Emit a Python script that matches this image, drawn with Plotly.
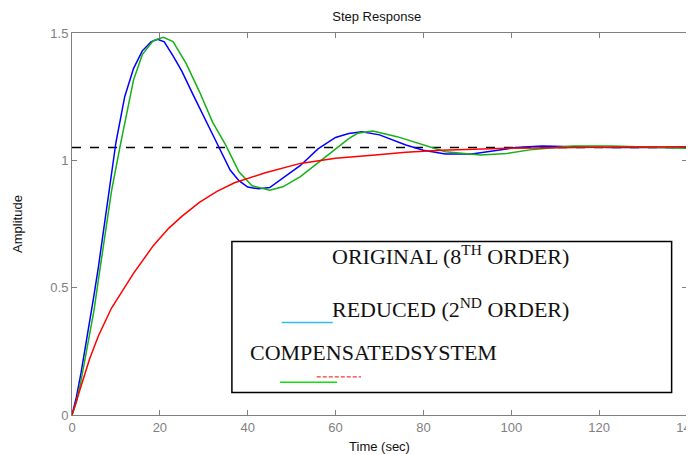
import plotly.graph_objects as go

# ---- data ----
t_orig = [0, 1, 2, 3, 4, 5, 6, 7, 8, 9, 10, 12, 14, 16, 18, 19.5, 21, 23, 25, 27.5, 30, 33,
          36, 38, 40, 42.5, 45, 48, 52, 56, 60, 63, 66, 70, 76, 80, 85, 91, 97, 101, 107,
          114, 122, 130, 140]
y_orig = [0, 0.07, 0.16, 0.26, 0.36, 0.47, 0.58, 0.70, 0.82, 0.94, 1.07, 1.25, 1.36, 1.43,
          1.465, 1.475, 1.465, 1.41, 1.35, 1.26, 1.17, 1.067, 0.962, 0.92, 0.895, 0.888,
          0.893, 0.93, 0.98, 1.045, 1.09, 1.105, 1.112, 1.10, 1.06, 1.04, 1.025, 1.025,
          1.04, 1.05, 1.056, 1.053, 1.05, 1.05, 1.05]

t_comp = [0, 1, 2, 3, 4, 5, 6, 7, 8, 9, 11, 14, 16, 18.5, 20.8, 23, 26, 29, 32, 35, 38, 41,
          45, 48, 52, 56, 59.5, 63, 65, 68.5, 74, 80, 85, 93, 99, 105, 114, 123, 140]
y_comp = [0, 0.05, 0.13, 0.22, 0.31, 0.41, 0.53, 0.65, 0.77, 0.88, 1.06, 1.315, 1.415,
          1.47, 1.483, 1.466, 1.38, 1.27, 1.15, 1.06, 0.955, 0.90, 0.883, 0.896, 0.936,
          0.99, 1.04, 1.085, 1.106, 1.115, 1.093, 1.06, 1.034, 1.021, 1.027, 1.043, 1.056,
          1.056, 1.047]

t_red = [0, 2, 4, 6, 9, 14, 18.5, 22, 25, 29, 33, 37, 44, 52, 60, 69, 76, 84, 99, 120, 140]
y_red = [0, 0.11, 0.22, 0.31, 0.42, 0.556, 0.665, 0.733, 0.78, 0.835, 0.878, 0.912, 0.951,
         0.988, 1.008, 1.021, 1.032, 1.04, 1.047, 1.051, 1.053]

final_value = 1.05
x_range = [0, 140]
y_range = [0, 1.5]
x_ticks = [0, 20, 40, 60, 80, 100, 120, 140]
y_ticks = [0, 0.5, 1, 1.5]
y_tick_labels = ["0", "0.5", "1", "1.5"]

fig = go.Figure()

fig.add_trace(go.Scatter(x=x_range, y=[final_value, final_value], mode="lines",
                         line=dict(color="black", width=1.5, dash="dash"),
                         showlegend=False, hoverinfo="skip"))
fig.add_trace(go.Scatter(x=t_orig, y=y_orig, mode="lines",
                         line=dict(color="#0000FF", width=1.5), showlegend=False))
fig.add_trace(go.Scatter(x=t_comp, y=y_comp, mode="lines",
                         line=dict(color="#16B016", width=1.5), showlegend=False))
fig.add_trace(go.Scatter(x=t_red, y=y_red, mode="lines",
                         line=dict(color="#FF0000", width=1.5), showlegend=False))

# custom legend box
fig.add_shape(type="rect", xref="paper", yref="paper", x0=0.260, x1=0.975, y0=0.059, y1=0.454,
              line=dict(color="black", width=1.5), fillcolor="white", layer="above")
fig.add_shape(type="line", xref="paper", yref="paper", x0=0.341, x1=0.424, y0=0.242, y1=0.242,
              line=dict(color="#33BBEE", width=1.5), layer="above")
fig.add_shape(type="line", xref="paper", yref="paper", x0=0.398, x1=0.470, y0=0.100, y1=0.100,
              line=dict(color="#FF3333", width=1.2, dash="4px,2px"), layer="above")
fig.add_shape(type="line", xref="paper", yref="paper", x0=0.338, x1=0.431, y0=0.0856, y1=0.0856,
              line=dict(color="#11DD11", width=1.5), layer="above")

serif = "Liberation Serif, Times New Roman, serif"
legend_texts = [
    ("ORIGINAL (8<sup>TH</sup> ORDER)", 0.4195, 0.418),
    ("REDUCED (2<sup>ND</sup> ORDER)", 0.4195, 0.280),
    ("COMPENSATEDSYSTEM", 0.286, 0.163),
]
for txt, xx, yy in legend_texts:
    fig.add_annotation(text=txt, xref="paper", yref="paper", x=xx, y=yy,
                       xanchor="left", yanchor="middle", showarrow=False,
                       font=dict(family=serif, size=22, color="#111111"))

sans = "Liberation Sans, Arial"
axis_common = dict(showline=True, linecolor="#808080", linewidth=1, mirror="ticks",
                   ticks="inside", ticklen=5, tickcolor="#808080", showgrid=False,
                   zeroline=False, automargin=False, ticklabeloverflow="allow",
                   tickfont=dict(family=sans, size=13, color="#7F7F7F"))

# the page body adds an 8px offset, so the figure is sized to fit the window
fig.update_layout(
    width=686, height=446,
    margin=dict(l=64, r=7, t=25, b=39, autoexpand=False),
    paper_bgcolor="white", plot_bgcolor="white",
    title=dict(text="Step Response", x=0.5375, xanchor="center", y=0.982, yanchor="middle",
               font=dict(family=sans, size=13, color="#111111")),
    xaxis=dict(range=x_range, tickvals=x_ticks, **axis_common,
               title=dict(text="Time (sec)", standoff=8,
                          font=dict(family=sans, size=13, color="#111111"))),
    yaxis=dict(range=y_range, tickvals=y_ticks, ticktext=y_tick_labels, **axis_common,
               title=dict(text="Amplitude", standoff=24,
                          font=dict(family=sans, size=13, color="#111111"))),
)

fig.write_html("out.html")
